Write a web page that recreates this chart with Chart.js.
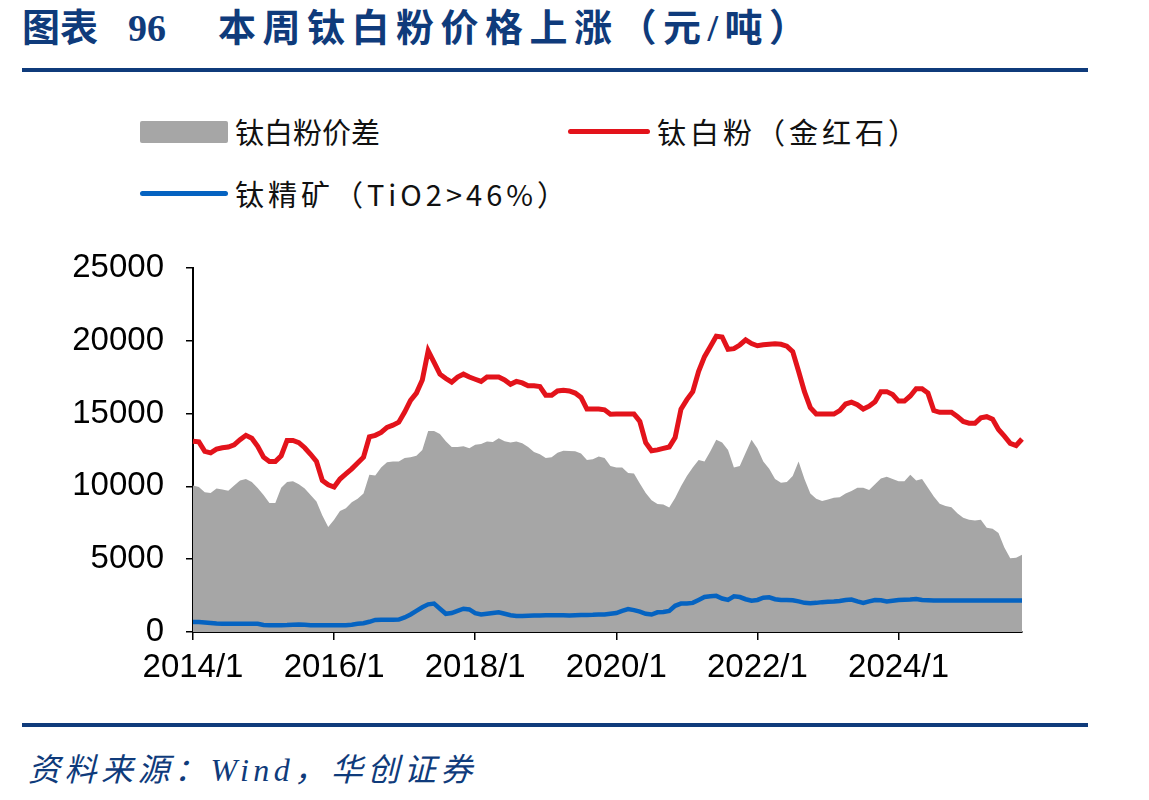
<!DOCTYPE html>
<html>
<head>
<meta charset="utf-8">
<script src="https://cdn.jsdelivr.net/npm/chart.js@4.4.1/dist/chart.umd.min.js"></script>
<style>
  body { margin: 0; width: 1149px; height: 800px; background: #fff; position: relative; overflow: hidden;
         font-family: "Liberation Sans", Arial, "Noto Sans CJK SC", sans-serif; }
  .title { position: absolute; top: 5px; height: 46px; line-height: 46px; font-size: 38px; font-weight: bold; color: #0f3b7b;
           font-family: "Liberation Serif", "Noto Sans CJK SC", serif; white-space: nowrap; }
  .rule { position: absolute; left: 22px; width: 1066px; height: 4px; background: #0f3b7b; }
  .swatch { position: absolute; }
  .lg { position: absolute; font-size: 29px; color: #111; font-family: "Noto Sans CJK SC", sans-serif; white-space: nowrap; line-height: 1; }
  .source { position: absolute; left: 28px; top: 744px; font-size: 32px; font-style: italic; color: #0f3b7b;
            letter-spacing: 4.5px;
            font-family: "Liberation Serif", "Noto Sans CJK SC", serif; white-space: nowrap; }
  #wrap { position: absolute; left: 0; top: 226px; width: 1149px; height: 474px; }
</style>
</head>
<body>
<div class="title" style="left:22px">图表</div>
<div class="title" style="left:128px">96</div>
<div class="title" style="left:218px; letter-spacing:6.5px">本周钛白粉价格上涨（元/吨）</div>
<div class="rule" style="top:68px"></div>

<div class="swatch" style="left:140px; top:121px; width:88px; height:22px; background:#a6a6a6; border-radius:2px"></div>
<div class="lg" style="left:235px; top:117px">钛白粉价差</div>
<div class="swatch" style="left:568px; top:129px; width:82px; height:5px; background:#e3131b; border-radius:3px"></div>
<div class="lg" style="left:657px; top:117px; letter-spacing:4px">钛白粉（金红石）</div>
<div class="swatch" style="left:140px; top:191px; width:88px; height:5px; background:#0563c1; border-radius:3px"></div>
<div class="lg" style="left:235px; top:179px; letter-spacing:4px">钛精矿（TiO2&gt;46%）</div>

<div id="wrap"><canvas id="myChart"></canvas></div>

<div class="rule" style="top:723px"></div>
<div class="source">资料来源：Wind，华创证券</div>

<script>
// 月度数据，2014/1 起
const startYear = 2014;
const monthCount = 142;
const months = [];
for (let i = 0; i < monthCount; i++) {
    months.push((startYear + Math.floor(i / 12)) + '/' + (i % 12 + 1));
}

// 钛白粉（金红石）
const titaniumDioxide = [
    13100, 13050, 12400, 12300, 12550, 12650, 12700, 12850, 13200, 13500, 13300, 12750,
    12000, 11700, 11700, 12100, 13150, 13150, 13000, 12650, 12200, 11700, 10400, 10100,
    9950, 10500, 10850, 11200, 11600, 12000, 13400, 13500, 13700, 14050, 14200, 14400,
    15100, 15900, 16400, 17300, 19300, 18500, 17700, 17400, 17150, 17500, 17700, 17500,
    17350, 17200, 17500, 17500, 17500, 17300, 17000, 17200, 17100, 16900, 16900, 16850,
    16250, 16250, 16550, 16600, 16550, 16400, 16100, 15300, 15300, 15300, 15250, 14950,
    14960, 14960, 14960, 14960, 14450, 13000, 12440, 12500, 12600, 12700, 13350, 15300,
    15950, 16500, 17900, 18900, 19600, 20300, 20250, 19400, 19450, 19700, 20050, 19800,
    19650, 19720, 19750, 19780, 19750, 19620, 19250, 17900, 16500, 15400, 14960, 14960,
    14960, 14960, 15200, 15650, 15780, 15600, 15300, 15500, 15800, 16500, 16500, 16300,
    15850, 15850, 16200, 16700, 16700, 16400, 15200, 15080, 15080, 15080, 14800, 14450,
    14330, 14330, 14700, 14780, 14600, 13900, 13450, 12950, 12800, 13250
];

// 钛精矿（TiO2>46%）
const ilmenite = [
    680, 680, 650, 620, 580, 570, 570, 570, 570, 570, 570, 560,
    480, 460, 460, 470, 480, 500, 520, 500, 470, 460, 460, 460,
    460, 460, 470, 500, 560, 600, 700, 830, 840, 840, 840, 850,
    1000, 1200, 1450, 1700, 1900, 1950, 1600, 1250, 1300, 1450, 1600, 1550,
    1300, 1200, 1250, 1300, 1350, 1250, 1150, 1100, 1100, 1120, 1130, 1140,
    1150, 1150, 1150, 1150, 1140, 1150, 1160, 1170, 1180, 1200, 1200, 1250,
    1300, 1450, 1570, 1500, 1400, 1250, 1200, 1350, 1380, 1450, 1800, 1950,
    1950, 2000, 2200, 2400, 2450, 2480, 2300, 2200, 2450, 2400, 2250, 2150,
    2200, 2350, 2380, 2250, 2200, 2200, 2180, 2100, 2000, 1980, 2000, 2050,
    2080, 2100, 2130, 2200, 2230, 2100, 2000, 2100, 2200, 2180, 2100, 2150,
    2200, 2220, 2230, 2270, 2200, 2180, 2160, 2160, 2160, 2160, 2160, 2160,
    2160, 2160, 2160, 2160, 2160, 2160, 2160, 2160, 2160, 2160
];

// 钛白粉价差
const spread = [
    10050, 9950, 9600, 9550, 9850, 9780, 9700, 10050, 10400, 10500, 10300, 9890,
    9400, 8850, 8850, 9900, 10300, 10350, 10150, 9850, 9400, 8950, 8000, 7200,
    7700, 8300, 8500, 8900, 9150, 9500, 10800, 10750, 11300, 11650, 11700, 11700,
    11950, 12000, 12100, 12500, 13800, 13800, 13600, 13100, 12700, 12700, 12750, 12620,
    12850, 12900, 13080, 13050, 13300, 13100, 13000, 13080, 12950, 12700, 12350, 12200,
    11950, 12000, 12300, 12440, 12420, 12400, 12250, 11800, 11850, 12050, 11950, 11400,
    11300, 11300, 10920, 10880, 10200, 9550, 9050, 8780, 8750, 8550, 9200, 10000,
    10700, 11300, 11800, 11700, 12400, 13200, 13000, 12500, 11300, 11400, 12300, 13200,
    12600, 11700, 11200, 10500, 10250, 10300, 10700, 11700, 10500, 9500, 9150, 9000,
    9100, 9210, 9250, 9500, 9680, 9900, 9900, 9750, 10150, 10530, 10650, 10500,
    10350, 10350, 10800, 10400, 10500, 9900, 9300, 8800, 8650, 8570, 8150, 7850,
    7700, 7660, 7700, 7160, 7080, 6800, 5800, 5070, 5100, 5300
];

const yTicks = [0, 5000, 10000, 15000, 20000, 25000];

function isShownMonth(label) {
    const parts = label.split('/');
    return parts[1] === '1' && parseInt(parts[0]) % 2 === 0;
}

const ctx = document.getElementById('myChart').getContext('2d');
const myChart = new Chart(ctx, {
    type: 'line',
    data: {
        labels: months,
        datasets: [
            {
                label: '钛白粉（金红石）',
                data: titaniumDioxide,
                borderColor: '#e3131b',
                borderWidth: 5,
                pointRadius: 0,
                fill: false,
                order: 0
            },
            {
                label: '钛精矿（TiO2>46%）',
                data: ilmenite,
                borderColor: '#0563c1',
                borderWidth: 4.5,
                pointRadius: 0,
                fill: false,
                order: 1
            },
            {
                label: '钛白粉价差',
                data: spread,
                borderWidth: 0,
                borderColor: 'rgba(0,0,0,0)',
                backgroundColor: '#a6a6a6',
                pointRadius: 0,
                fill: 'origin',
                order: 2
            }
        ]
    },
    options: {
        responsive: true,
        maintainAspectRatio: false,
        animation: false,
        layout: { padding: { top: 0, right: 127, left: 0, bottom: 0 } },
        plugins: { legend: { display: false }, tooltip: { enabled: false } },
        scales: {
            x: {
                border: { display: true, color: '#000', width: 2 },
                grid: {
                    drawOnChartArea: false,
                    drawTicks: true,
                    tickLength: 8,
                    lineWidth: 1.5,
                    color: (c) => (c.tick && isShownMonth(months[c.index]) ? '#000' : 'rgba(0,0,0,0)')
                },
                ticks: {
                    autoSkip: false,
                    maxRotation: 0,
                    padding: 8,
                    color: '#000',
                    font: { family: '"Liberation Sans", Arial', size: 33 },
                    callback: function (value, index) {
                        const lab = months[index];
                        return isShownMonth(lab) ? lab : '';
                    }
                },
                afterFit: (scale) => { scale.height = 68; }
            },
            y: {
                min: 0,
                max: 25000,
                border: { display: true, color: '#000', width: 2 },
                grid: { drawOnChartArea: false, drawTicks: true, tickLength: 7, lineWidth: 1.5, color: '#000' },
                afterBuildTicks: (scale) => { scale.ticks = yTicks.map(v => ({ value: v })); },
                ticks: {
                    padding: 22,
                    color: '#000',
                    font: { family: '"Liberation Sans", Arial', size: 33 },
                    callback: (v) => String(v)
                },
                afterFit: (scale) => { scale.width = 193; }
            }
        }
    }
});
</script>
</body>
</html>
